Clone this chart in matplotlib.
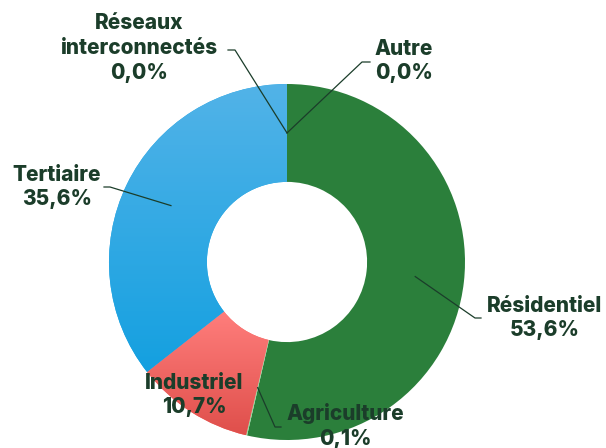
import numpy as np
import matplotlib
matplotlib.use("Agg")
import matplotlib.pyplot as plt
from matplotlib.colors import LinearSegmentedColormap

labels = ["Résidentiel", "Agriculture", "Industriel", "Tertiaire",
          "Réseaux\ninterconnectés", "Autre"]
shares = [53.6, 0.1, 10.7, 35.6, 0.0, 0.0]
colors = ["#2b7f3b", "#8fd694", "#fb6b69", "#22a6e4", "#2b7f3b", "#2b7f3b"]
gradients = {2: ("#ff7e7c", "#df4f4b"), 3: ("#52b3e8", "#14a0e0")}

TEXT = "#1b3d2a"
W, H = 606, 448
CX, CY, R = 287, 262, 178


def px(x, y):
    return (x - CX) / R, (CY - y) / R


# label centre, elbow point, end of horizontal tick (pixels); None = no leader
label_pos = [
    ((545, 318), (475, 318), (481, 318)),
    ((345, 426), (275, 427), (281, 427)),
    ((194, 395), None, None),
    ((57, 187), (110, 187), (104, 187)),
    ((139, 48), (235, 50), (228, 50)),
    ((404, 61), (362, 62), (370, 62)),
]

fig = plt.figure(figsize=(W / 100, H / 100), dpi=100)
ax = fig.add_axes([0, 0, 1, 1])
wedges, _ = ax.pie(shares, colors=colors, startangle=90, counterclock=False,
                   radius=1, wedgeprops=dict(width=0.55, linewidth=0))

for i, (c0, c1) in gradients.items():
    w = wedges[i]
    bb = w.get_path().get_extents()
    cmap = LinearSegmentedColormap.from_list("g", [c0, c1])
    grad = np.linspace(0, 1, 256).reshape(-1, 1)
    im = ax.imshow(grad, cmap=cmap, aspect="auto", origin="upper",
                   extent=(bb.x0, bb.x1, bb.y0, bb.y1), zorder=w.get_zorder() + 0.1)
    im.set_clip_path(w)

mid_r = 1 - 0.55 / 2
start = 0.0
total = sum(shares)
for i, (lab, v) in enumerate(zip(labels, shares)):
    mid = start + v / 2
    start += v
    ang = np.deg2rad(90 - 360 * mid / total)
    ax_, ay_ = mid_r * np.cos(ang), mid_r * np.sin(ang)
    (tx, ty), elbow, end = label_pos[i]
    if elbow is not None:
        ex, ey = px(*elbow)
        hx, hy = px(*end)
        ax.plot([ax_, ex, hx], [ay_, ey, hy], color=TEXT, lw=0.9, zorder=5)
    txt = f"{lab}\n{v:.1f}%".replace(".", ",")
    x, y = px(tx, ty)
    ax.text(x, y, txt, ha="center", va="center", ma="center", fontsize=15,
            fontweight="heavy", family="Inter", color=TEXT, linespacing=1.3, zorder=6)

x0, y0 = px(0, H)
x1, y1 = px(W, 0)
ax.set_xlim(x0, x1)
ax.set_ylim(y0, y1)
ax.set_aspect("auto")
ax.axis("off")

fig.savefig("out.png", dpi=100)
